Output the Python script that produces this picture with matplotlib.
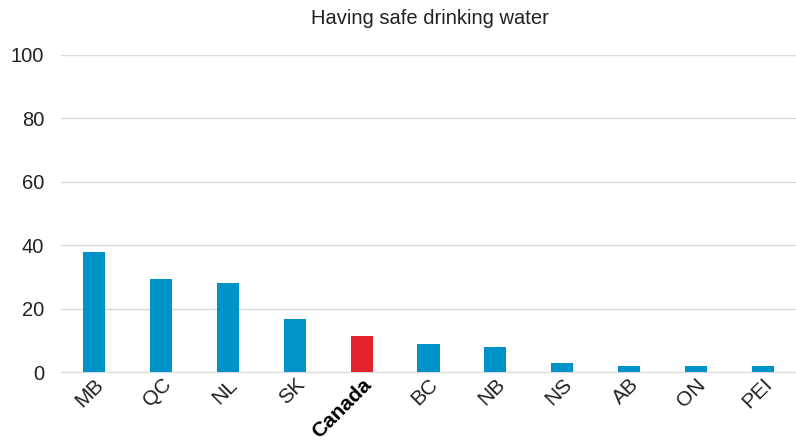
import matplotlib
matplotlib.use("Agg")
import matplotlib.pyplot as plt

regions = ['MB', 'QC', 'NL', 'SK', 'Canada', 'BC', 'NB', 'NS', 'AB', 'ON', 'PEI']
values = [37.9, 29.5, 28.0, 16.9, 11.3, 8.8, 7.9, 2.8, 1.9, 1.9, 1.9]
highlight = 'Canada'

blue = '#0093c9'
red = '#e3222b'

plt.rcParams['font.family'] = ['Liberation Sans', 'DejaVu Sans']

fig = plt.figure(figsize=(7.96, 4.42), dpi=100)
ax = fig.add_axes([0.0766, 0.158, 0.9234, 0.7176])

colors = [red if r == highlight else blue for r in regions]
ax.bar(range(len(regions)), values, width=0.33, color=colors, zorder=3)

ax.set_xlim(-0.5, len(regions) - 0.5)
ax.set_ylim(0, 100)
ax.set_yticks(range(0, 101, 20))
ax.yaxis.grid(True, color='#d9d9d9', linewidth=1, zorder=0)
for s in ['top', 'right', 'left']:
    ax.spines[s].set_visible(False)
ax.spines['bottom'].set_color('#d9d9d9')
ax.tick_params(axis='both', length=0, labelsize=14.5, colors='#222222')
ax.tick_params(axis='y', pad=12)
ax.tick_params(axis='x', pad=2, labelsize=15)

ax.set_xticks(range(len(regions)))
ax.set_xticklabels(regions, rotation=45, ha='right', rotation_mode='anchor')
for lbl in ax.get_xticklabels():
    if lbl.get_text() == highlight:
        lbl.set_fontweight('bold')
        lbl.set_color('black')

fig.text(0.54, 0.958, 'Having safe drinking water', ha='center', va='center',
         fontsize=14.5, color='#222222')

fig.savefig('out.png', dpi=100)
